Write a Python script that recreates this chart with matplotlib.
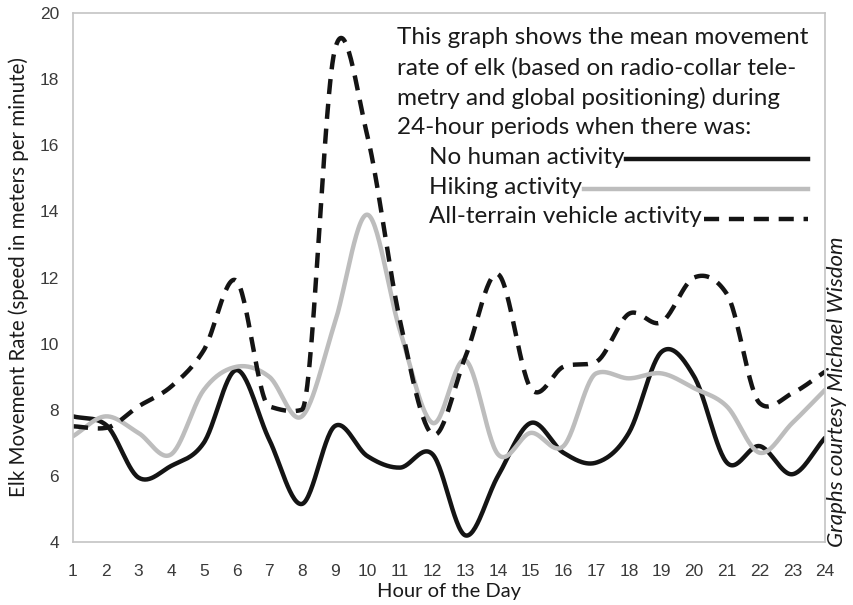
import numpy as np
import matplotlib
matplotlib.use('Agg')
import matplotlib.pyplot as plt
from matplotlib.lines import Line2D

# hourly mean movement rate (m/min)
hours = list(range(1, 25))
no_human = [7.8, 7.55, 5.95, 6.3, 7.0, 9.2, 7.1, 5.15, 7.5, 6.6, 6.25, 6.65,
            4.2, 6.0, 7.6, 6.7, 6.4, 7.3, 9.75, 9.0, 6.4, 6.9, 6.05, 7.15]
hiking = [7.2, 7.8, 7.3, 6.65, 8.6, 9.3, 9.0, 7.8, 10.6, 13.9, 10.4, 7.6,
          9.5, 6.65, 7.3, 6.9, 9.1, 8.95, 9.1, 8.65, 8.1, 6.7, 7.6, 8.6]
atv = [7.5, 7.45, 8.1, 8.7, 9.8, 11.9, 8.1, 8.0, 18.85, 16.3, 10.7, 7.25,
       9.6, 12.1, 8.65, 9.3, 9.45, 10.9, 10.65, 12.0, 11.5, 8.2, 8.5, 9.15]

intro = ['This graph shows the mean movement',
         'rate of elk (based on radio-collar tele-',
         'metry and global positioning) during',
         '24-hour periods when there was:']
labels = ['No human activity', 'Hiking activity', 'All-terrain vehicle activity']


def smooth(x, y, n=30):
    # Excel-like smoothed line (Catmull-Rom), tangents capped next to
    # nearly flat steps so the curve does not dip below them
    x = np.asarray(x, float)
    y = np.asarray(y, float)
    dy = np.diff(y)
    m = np.zeros_like(y)
    m[1:-1] = (y[2:] - y[:-2]) / 2.
    m[0] = dy[0]
    m[-1] = dy[-1]
    for i in range(1, len(y) - 1):
        lim = 3. * min(abs(dy[i-1]), abs(dy[i]))
        m[i] = np.clip(m[i], -lim, lim)
    xs, ys = [], []
    t = np.linspace(0, 1, n, endpoint=False)
    h00 = 2*t**3 - 3*t**2 + 1
    h10 = t**3 - 2*t**2 + t
    h01 = -2*t**3 + 3*t**2
    h11 = t**3 - t**2
    for i in range(len(x) - 1):
        xs.append(x[i] + t*(x[i+1] - x[i]))
        ys.append(h00*y[i] + h10*m[i] + h01*y[i+1] + h11*m[i+1])
    xs.append([x[-1]])
    ys.append([y[-1]])
    return np.concatenate(xs), np.concatenate(ys)


W, H = 854, 605
fig = plt.figure(figsize=(W/100., H/100.), dpi=100)
ax = fig.add_axes([73./W, 1-542./H, (825.-73.)/W, (542.-13.)/H])

styles = [dict(c='#141414', lw=3.2, ls='-'),
          dict(c='#bdbdbd', lw=3.2, ls='-'),
          dict(c='#141414', lw=3.2, ls=(0, (3.4, 2.2)))]

for data, st in zip([no_human, hiking, atv], styles):
    xs, ys = smooth(hours, data)
    ax.plot(xs, ys, solid_capstyle='round', **st)

ax.set_xlim(1, 24)
ax.set_ylim(4, 20)
ax.set_xticks(hours)
ax.set_yticks(np.arange(4, 21, 2))
for sp in ax.spines.values():
    sp.set_color('#c4c4c4')
    sp.set_linewidth(1.2)
ax.tick_params(length=0, labelsize=12.5, labelcolor='#3a3a3a')
ax.tick_params(axis='x', pad=16)
ax.tick_params(axis='y', pad=10)
for lab in ax.get_xticklabels() + ax.get_yticklabels():
    lab.set_family('Liberation Sans')
ax.set_ylabel('Elk Movement Rate (speed in meters per minute)',
              family='Lato', fontsize=14.8, color='#1a1a1a', labelpad=8)
ax.set_xlabel('Hour of the Day', family='Lato', fontsize=14.5, color='#1a1a1a',
              labelpad=3)

fig.text(837./W, 1-392./H, 'Graphs courtesy Michael Wisdom', family='Lato',
         style='italic', fontsize=16, rotation=90, ha='center', va='center',
         color='#1a1a1a')

# annotation block with the hand-made legend
y0 = 38.
step = 29.8
for i, s in enumerate(intro):
    fig.text(397./W, 1-(y0 + i*step)/H, s, family='Lato', fontsize=17.5,
             va='center', ha='left', color='#1a1a1a')
texts = []
for i, s in enumerate(labels):
    t = fig.text(429./W, 1-(y0 + (i+4)*step)/H, s, family='Lato', fontsize=17.5,
                 va='center', ha='left', color='#1a1a1a')
    texts.append(t)

fig.canvas.draw()
r = fig.canvas.get_renderer()
for t, st, i in zip(texts, styles, range(3)):
    bb = t.get_window_extent(renderer=r)
    yy = 1-(y0 + (i+4)*step + 2)/H
    fig.add_artist(Line2D([(bb.x1 + 2)/W, 808./W], [yy, yy],
                          transform=fig.transFigure, **st))

fig.savefig('out.png', dpi=100)
